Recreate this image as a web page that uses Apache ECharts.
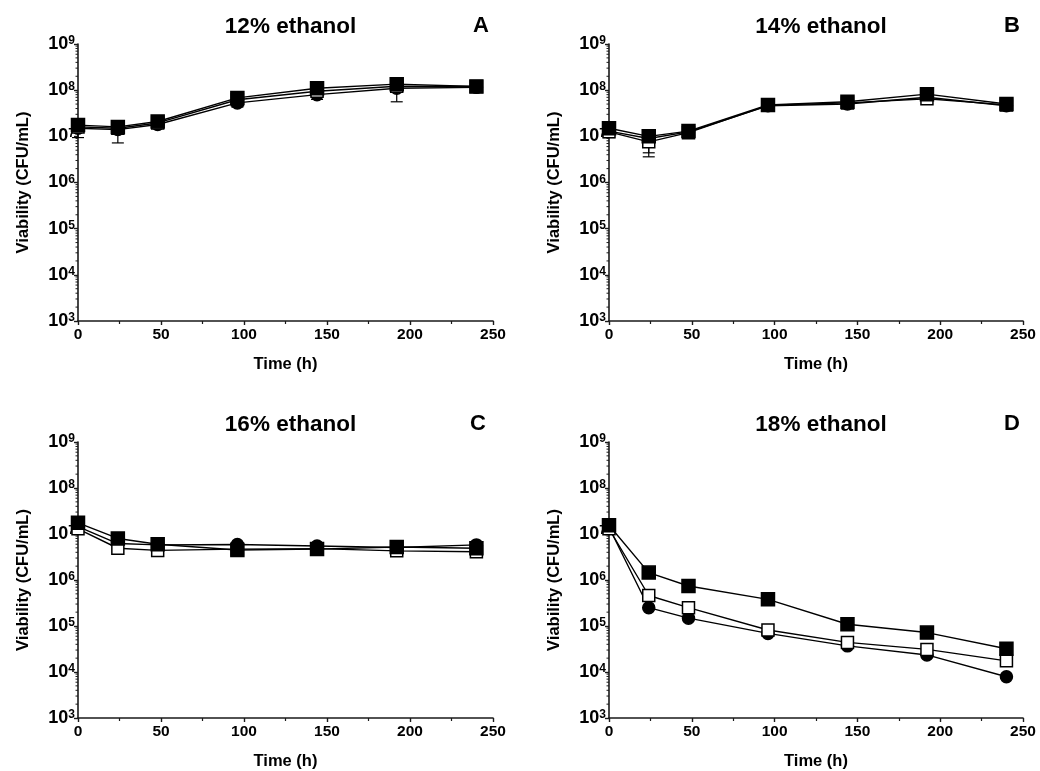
<!DOCTYPE html>
<html><head><meta charset="utf-8">
<script src="https://cdn.jsdelivr.net/npm/echarts@6/dist/echarts.min.js"></script>
<style>html,body{margin:0;padding:0;background:#fff}#c{width:1040px;height:771px}</style>
</head><body><div id="c"></div>
<script>
// ---------- data ----------
const times = [0, 24, 48, 96, 144, 192, 240];
const panelTitles = ['12% ethanol', '14% ethanol', '16% ethanol', '18% ethanol'];
const panelLetters = ['A', 'B', 'C', 'D'];
const xTicks = [0, 50, 100, 150, 200, 250];
const yExponents = [3, 4, 5, 6, 7, 8, 9];
const xAxisTitle = 'Time (h)';
const yAxisTitle = 'Viability (CFU/mL)';

// Panel A (12%)
const circleA = [1.5e7, 1.4e7, 1.8e7, 5.3e7, 8.0e7, 1.1e8, 1.15e8];
const openA   = [1.6e7, 1.5e7, 1.95e7, 6.2e7, 9.5e7, 1.22e8, 1.2e8];
const filledA = [1.75e7, 1.6e7, 2.1e7, 6.8e7, 1.1e8, 1.35e8, 1.2e8];
const errA = [[0, 9.4e6, 2.2e7], [24, 7.2e6, 2.0e7], [96, 4.3e7, 6.5e7], [144, 6.3e7, 1.0e8], [192, 5.6e7, 1.6e8]];

// Panel B (14%)
const circleB = [1.3e7, 9.0e6, 1.25e7, 4.6e7, 5.0e7, 7.0e7, 4.6e7];
const openB   = [1.25e7, 7.6e6, 1.2e7, 4.7e7, 5.3e7, 6.5e7, 4.8e7];
const filledB = [1.5e7, 1.0e7, 1.3e7, 4.8e7, 5.6e7, 8.2e7, 5.0e7];
const errB = [[0, 9.4e6, 1.8e7], [24, 4.4e6, 1.3e7], [24, 3.6e6, 1.2e7]];

// Panel C (16%)
const circleC = [1.45e7, 6.2e6, 5.8e6, 5.9e6, 5.5e6, 5.1e6, 5.8e6];
const openC   = [1.3e7, 4.9e6, 4.4e6, 4.7e6, 4.8e6, 4.3e6, 4.1e6];
const filledC = [1.75e7, 8.0e6, 6.0e6, 4.5e6, 4.7e6, 5.2e6, 4.9e6];
const errC = [];

// Panel D (18%)
const circleD = [1.4e7, 2.5e5, 1.48e5, 6.9e4, 3.7e4, 2.35e4, 7.9e3];
const openD   = [1.3e7, 4.6e5, 2.5e5, 8.2e4, 4.4e4, 3.1e4, 1.75e4];
const filledD = [1.55e7, 1.45e6, 7.4e5, 3.8e5, 1.09e5, 7.2e4, 3.2e4];
const errD = [];

const panels = [
  { circle: circleA, open: openA, filled: filledA, err: errA },
  { circle: circleB, open: openB, filled: filledB, err: errB },
  { circle: circleC, open: openC, filled: filledC, err: errC },
  { circle: circleD, open: openD, filled: filledD, err: errD }
];

// ---------- layout / style ----------
const FONT = '"Liberation Sans", Arial, Helvetica, sans-serif';
const gridBoxes = [
  { left: 78, top: 44, width: 415, height: 277 },
  { left: 609, top: 44, width: 414, height: 277 },
  { left: 78, top: 442, width: 415, height: 276 },
  { left: 609, top: 442, width: 414, height: 276 }
];
const titleY = [10, 10, 408, 408];
const letterX = [476, 1007, 473, 1007];

const minorTickVals = [];
for (let i = 0; i < yExponents.length - 1; i++) {
  for (let m = 2; m <= 9; m++) minorTickVals.push([0, m * Math.pow(10, yExponents[i])]);
}

const option = {
  animation: false,
  backgroundColor: '#fff',
  textStyle: { fontFamily: FONT },
  title: [],
  grid: [],
  xAxis: [],
  yAxis: [],
  series: []
};

const axisColor = '#1a1a1a';

panels.forEach((p, i) => {
  const g = gridBoxes[i];
  option.grid.push(Object.assign({ containLabel: false }, g));
  option.title.push({
    text: panelTitles[i], left: g.left + g.width / 2, top: titleY[i], textAlign: 'center',
    textStyle: { fontFamily: FONT, fontSize: 22.5, fontWeight: 'bold', color: '#000' }
  });
  option.title.push({
    text: panelLetters[i], left: letterX[i], top: titleY[i], textAlign: 'center',
    textStyle: { fontFamily: FONT, fontSize: 22, fontWeight: 'bold', color: '#000' }
  });
  option.xAxis.push({
    type: 'value', gridIndex: i, min: xTicks[0], max: xTicks[xTicks.length - 1],
    interval: xTicks[1] - xTicks[0],
    name: xAxisTitle, nameLocation: 'middle', nameGap: 35,
    nameTextStyle: { fontFamily: FONT, fontSize: 16.5, fontWeight: 'bold', color: '#000' },
    axisLine: { show: true, onZero: false, lineStyle: { color: axisColor, width: 1.6 } },
    axisTick: { show: true, length: 4, lineStyle: { color: axisColor, width: 1.4 } },
    minorTick: { show: true, splitNumber: 2, length: 3, lineStyle: { color: axisColor, width: 1.2 } },
    splitLine: { show: false },
    axisLabel: { margin: 6, fontFamily: FONT, fontSize: 15.5, fontWeight: 'bold', color: '#000' }
  });
  option.yAxis.push({
    type: 'log', logBase: 10, gridIndex: i,
    min: Math.pow(10, yExponents[0]), max: Math.pow(10, yExponents[yExponents.length - 1]),
    interval: 1, splitNumber: yExponents.length - 1,
    name: yAxisTitle, nameLocation: 'middle', nameGap: 46,
    nameTextStyle: { fontFamily: FONT, fontSize: 16.5, fontWeight: 'bold', color: '#000' },
    axisLine: { show: true, onZero: false, lineStyle: { color: axisColor, width: 1.6 } },
    axisTick: { show: true, length: 4, lineStyle: { color: axisColor, width: 1.4 } },
    minorTick: { show: false },
    splitLine: { show: false },
    axisLabel: {
      margin: 3,
      formatter: v => '{b|10}{s|' + Math.round(Math.log10(v)) + '}',
      rich: {
        b: { fontFamily: FONT, fontSize: 18, fontWeight: 'bold', color: '#000', lineHeight: 18 },
        s: { fontFamily: FONT, fontSize: 12, fontWeight: 'bold', color: '#000', lineHeight: 12, verticalAlign: 'top' }
      }
    }
  });

  // y-axis log minor ticks
  option.series.push({
    type: 'custom', xAxisIndex: i, yAxisIndex: i, data: minorTickVals, silent: true,
    encode: { x: 0, y: 1 }, clip: false, z: 1,
    renderItem: (params, api) => {
      const c = api.coord([0, api.value(1)]);
      return { type: 'line', shape: { x1: c[0] - 2.5, y1: c[1], x2: c[0], y2: c[1] },
        style: { stroke: axisColor, lineWidth: 1 } };
    }
  });

  // error bars
  option.series.push({
    type: 'custom', xAxisIndex: i, yAxisIndex: i, data: p.err, silent: true,
    encode: { x: 0, y: [1, 2] }, clip: false, z: 2,
    renderItem: (params, api) => {
      const a = api.coord([api.value(0), api.value(1)]);
      const b = api.coord([api.value(0), api.value(2)]);
      const w = 6;
      const st = { stroke: '#000', lineWidth: 1.2 };
      return { type: 'group', children: [
        { type: 'line', shape: { x1: a[0], y1: a[1], x2: b[0], y2: b[1] }, style: st },
        { type: 'line', shape: { x1: a[0] - w, y1: a[1], x2: a[0] + w, y2: a[1] }, style: st },
        { type: 'line', shape: { x1: b[0] - w, y1: b[1], x2: b[0] + w, y2: b[1] }, style: st }
      ] };
    }
  });

  const mk = (vals, symbol, size, fill, z) => ({
    type: 'line', xAxisIndex: i, yAxisIndex: i,
    data: times.map((t, k) => [t, vals[k]]),
    symbol: symbol, symbolSize: size, showSymbol: true, z: z,
    lineStyle: { color: '#000', width: 1.4 },
    itemStyle: { color: fill, borderColor: '#000', borderWidth: 1.5, opacity: 1 },
    emphasis: { disabled: true }
  });
  option.series.push(mk(p.circle, 'circle', 12, '#000', 3));
  option.series.push(mk(p.open, 'rect', 12, '#fff', 4));
  option.series.push(mk(p.filled, 'rect', 13, '#000', 5));
});

const chart = echarts.init(document.getElementById('c'), null, { renderer: 'canvas' });
chart.setOption(option);
</script>
</body></html>
